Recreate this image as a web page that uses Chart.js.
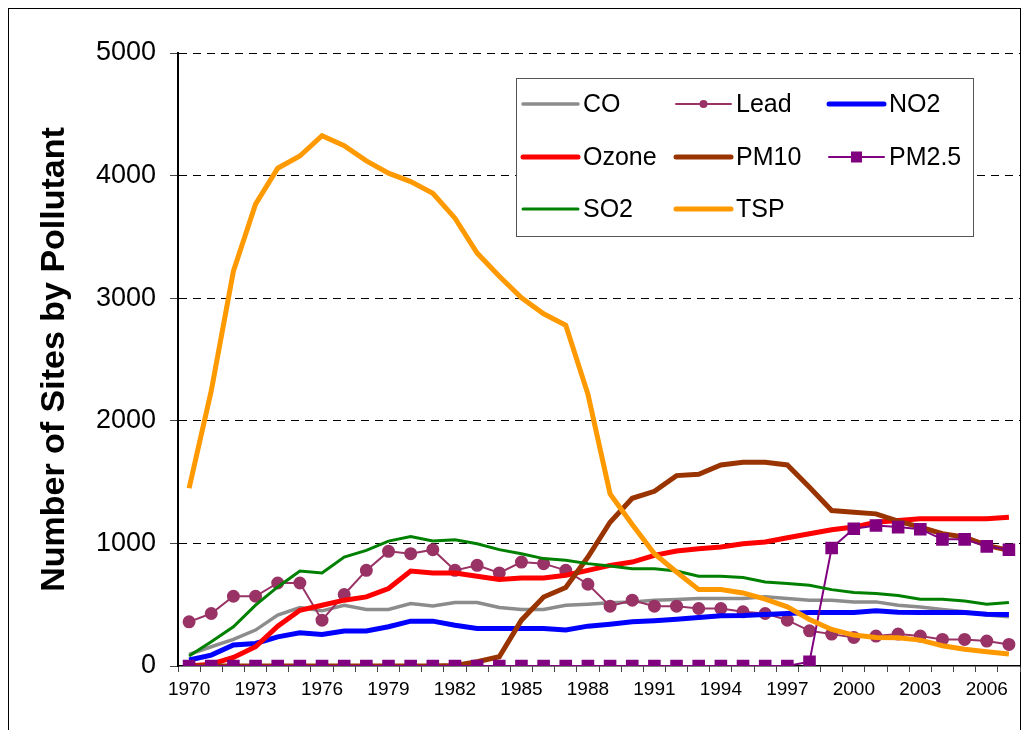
<!DOCTYPE html>
<html>
<head>
<meta charset="utf-8">
<script src="https://cdn.jsdelivr.net/npm/chart.js@4.4.0/dist/chart.umd.min.js"></script>
<style>
  body { margin: 0; background: #fff; }
  #wrap { position: relative; width: 1035px; height: 730px; overflow: hidden; }
  #frame { position: absolute; left: 8px; top: 8px; width: 1011px; height: 760px; border: 1px solid #000; }
  canvas { position: absolute; left: 0; top: 0; }
</style>
</head>
<body>
<div id="wrap">
  <div id="frame"></div>
  <canvas id="chart" width="1035" height="730"></canvas>
</div>
<script>
// Data (1970-2007)
const years = [];
for (let y = 1970; y <= 2007; y++) years.push(String(y));

const co = [95, 157, 217, 293, 415, 477, 450, 496, 461, 461, 509, 490, 518, 518, 477, 461, 461, 496, 504, 515,
  523, 537, 542, 550, 550, 550, 564, 550, 537, 537, 523, 523, 496, 482, 461, 442, 415, 401];
const lead = [360, 428, 569, 569, 677, 677, 374, 583, 780, 935, 916, 949, 780, 821, 759, 848, 835, 780, 667, 488,
  537, 488, 488, 469, 469, 442, 428, 374, 287, 260, 233, 244, 260, 244, 217, 217, 203, 176];
const no2 = [49, 89, 171, 184, 238, 271, 257, 285, 285, 320, 366, 366, 333, 306, 306, 306, 306, 293, 325, 341,
  360, 369, 382, 396, 409, 412, 420, 428, 436, 436, 436, 450, 439, 436, 436, 436, 423, 420];
const ozone = [0, 15, 70, 157, 325, 455, 496, 537, 564, 632, 775, 759, 759, 732, 705, 718, 718, 740, 780, 821,
  848, 902, 938, 957, 970, 997, 1011, 1046, 1079, 1111, 1133, 1173, 1187, 1201, 1201, 1201, 1201, 1214];
const pm10 = [0, 0, 0, 0, 0, 0, 0, 0, 0, 0, 0, 0, 5, 35, 76, 374, 563, 640, 889, 1173,
  1368, 1425, 1553, 1564, 1640, 1661, 1661, 1640, 1458, 1268, 1255, 1241, 1181, 1133, 1079, 1051, 984, 943];
const pm25 = [0, 0, 0, 0, 0, 0, 0, 0, 0, 0, 0, 0, 0, 0, 0, 0, 0, 0, 0, 0,
  0, 0, 0, 0, 0, 0, 0, 0, 35, 962, 1119, 1146, 1133, 1116, 1033, 1033, 976, 948];
const so2 = [81, 198, 320, 496, 645, 775, 759, 889, 943, 1019, 1057, 1019, 1030, 997, 949, 916, 876, 862, 835, 816,
  794, 794, 775, 732, 732, 721, 686, 672, 659, 623, 599, 591, 575, 545, 545, 531, 504, 518];
const tsp = [1450, 2244, 3220, 3767, 4060, 4160, 4325, 4244, 4120, 4020, 3951, 3856, 3653, 3368, 3179, 3003, 2873, 2780, 2217, 1404,
  1154, 916, 767, 623, 623, 596, 545, 482, 380, 298, 252, 233, 230, 211, 165, 136, 117, 98];

const FONT = "'Liberation Sans', Arial, sans-serif";

function series(label, data, color, width, extra) {
  return Object.assign({
    label: label,
    data: data,
    borderColor: color,
    backgroundColor: color,
    borderWidth: width,
    pointRadius: 0,
    tension: 0,
    fill: false
  }, extra || {});
}

const datasets = [
  series("CO", co, "#8c8c8c", 3.5),
  series("Lead", lead, "#993366", 2, { pointStyle: "circle", pointRadius: 5.5 }),
  series("NO2", no2, "#0000ff", 5),
  series("Ozone", ozone, "#ff0000", 5),
  series("PM10", pm10, "#993300", 5),
  series("PM2.5", pm25, "#800080", 2, { pointStyle: "rect", pointRadius: 7.5 }),
  series("SO2", so2, "#008000", 3),
  series("TSP", tsp, "#ff9900", 5)
];
// later series drawn on top, like the original
datasets.forEach(function (d, i) { d.order = datasets.length - i; });

// legend box drawn inside the plot
const boxLegend = {
  id: "boxLegend",
  afterDatasetsDraw: function (chart) {
    const ctx = chart.ctx;
    const x0 = 516, y0 = 78, w = 457, h = 158;
    ctx.save();
    ctx.fillStyle = "#fff";
    ctx.fillRect(x0, y0, w, h);
    ctx.strokeStyle = "#555";
    ctx.lineWidth = 1;
    ctx.strokeRect(x0 + 0.5, y0 + 0.5, w, h);
    const cols = [523, 676, 829];
    const rows = [104, 157, 209];
    ctx.font = "25px " + FONT;
    ctx.textBaseline = "middle";
    chart.data.datasets.forEach(function (d, i) {
      const cx = cols[i % 3], cy = rows[Math.floor(i / 3)];
      ctx.strokeStyle = d.borderColor;
      ctx.lineWidth = d.borderWidth;
      ctx.lineCap = "round";
      ctx.beginPath();
      ctx.moveTo(cx, cy);
      ctx.lineTo(cx + 55, cy);
      ctx.stroke();
      if (d.pointStyle === "circle") {
        ctx.fillStyle = d.borderColor;
        ctx.beginPath();
        ctx.arc(cx + 27.5, cy, 4, 0, Math.PI * 2);
        ctx.fill();
      } else if (d.pointStyle === "rect") {
        ctx.fillStyle = d.borderColor;
        ctx.fillRect(cx + 22, cy - 5.5, 11, 11);
      }
      ctx.fillStyle = "#000";
      ctx.fillText(d.label, cx + 60, cy + 1);
    });
    ctx.restore();
  }
};

new Chart(document.getElementById("chart"), {
  type: "line",
  data: { labels: years, datasets: datasets },
  plugins: [boxLegend],
  options: {
    responsive: false,
    animation: false,
    layout: { padding: { top: 53, right: 15, left: 0, bottom: 0 } },
    plugins: {
      legend: { display: false },
      tooltip: { enabled: false }
    },
    scales: {
      x: {
        offset: true,
        border: { color: "#000", width: 1.5 },
        grid: {
          offset: true,
          drawOnChartArea: false,
          tickLength: 6,
          tickColor: "#444",
          tickWidth: 1
        },
        ticks: {
          autoSkip: false,
          maxRotation: 0,
          padding: 6,
          color: "#000",
          font: { family: FONT, size: 19 },
          callback: function (v, i) { return i % 3 === 0 ? years[i] : ""; }
        },
        afterFit: function (scale) { scale.height = 64; }
      },
      y: {
        min: 0,
        max: 5000,
        // in v4 border.dash is the dash of the grid lines
        border: { color: "#000", width: 2, dash: [8, 6] },
        grid: {
          color: function (c) { return c.tick && c.tick.value === 0 ? "rgba(0,0,0,0)" : "#000"; },
          lineWidth: 1,
          tickLength: 8,
          tickColor: "#444",
          tickBorderDash: []
        },
        ticks: {
          stepSize: 1000,
          padding: 14,
          color: "#000",
          font: { family: FONT, size: 27 },
          callback: function (v) { return String(v); }
        },
        title: {
          display: true,
          text: "Number of Sites by Pollutant",
          color: "#000",
          font: { family: FONT, size: 34, weight: "bold" },
          padding: { top: 34 }
        },
        afterFit: function (scale) { scale.width = 178; }
      }
    }
  }
});
</script>
</body>
</html>
